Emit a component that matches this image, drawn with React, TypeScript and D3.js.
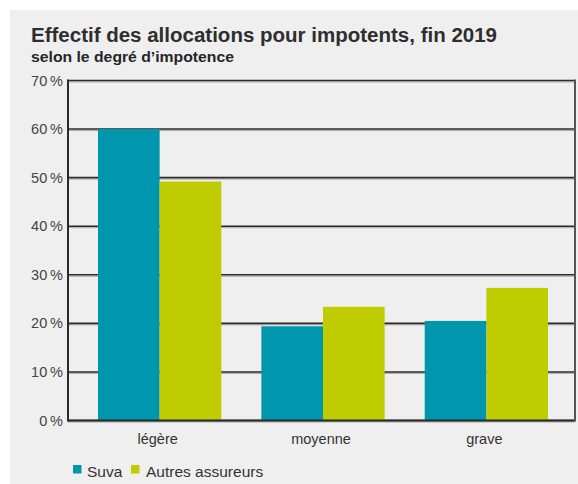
import React from "react";
import * as d3 from "d3";

const categories = ["légère", "moyenne", "grave"];
const seriesNames = ["Suva", "Autres assureurs"];
const suvaValues = [60.0, 19.4, 20.5];
const autresValues = [49.2, 23.4, 27.3];
const yTicks = [0, 10, 20, 30, 40, 50, 60, 70];
const colors = ["#0097ae", "#bfcc00"];

const W = 578;
const H = 484;
const plotLeft = 68;
const plotRight = 575;
const plotTop = 80.5;
const plotBottom = 420.5;

export default function App() {
  const y = d3.scaleLinear().domain([0, 70]).range([plotBottom, plotTop]);
  const x0 = d3
    .scaleBand<string>()
    .domain(categories)
    .range([98, 548])
    .paddingInner(40 / 163)
    .paddingOuter(0);
  const x1 = d3
    .scaleBand<string>()
    .domain(seriesNames)
    .range([0, x0.bandwidth()]);
  const values = [suvaValues, autresValues];
  const font = "'Liberation Sans', Arial, Helvetica, sans-serif";

  return (
    <div style={{ position: "absolute", left: 0, top: 0 }}>
      <svg width={W} height={H} style={{ display: "block" }} fontFamily={font}>
        <rect x={10} y={10} width={W - 10} height={H - 10} fill="#efefef" />
        <text x={31} y={41.5} fontSize={20} fontWeight={700} fill="#2e2e2e" textLength={466} lengthAdjust="spacingAndGlyphs">
          Effectif des allocations pour impotents, fin 2019
        </text>
        <text x={31} y={61.5} fontSize={15} fontWeight={700} fill="#262626" textLength={203} lengthAdjust="spacingAndGlyphs">
          selon le degré d’impotence
        </text>
        {/* gridlines */}
        {yTicks.map((t) => (
          <g key={t}>
            <line x1={plotLeft} x2={plotRight} y1={y(t) + 1.5} y2={y(t) + 1.5} stroke="#aaa" strokeWidth={1} />
            <line x1={plotLeft} x2={plotRight} y1={y(t)} y2={y(t)} stroke="#2a2a2a" strokeWidth={1.6} />
            <text x={63} y={y(t) + 5} fontSize={14.5} textAnchor="end" fill="#444">
              {`${t}\u2009%`}
            </text>
          </g>
        ))}
        {/* bars */}
        {categories.map((c, i) => (
          <g key={c}>
            {seriesNames.map((s, j) => (
              <rect
                key={s}
                x={(x0(c) as number) + (x1(s) as number)}
                y={y(values[j][i])}
                width={x1.bandwidth()}
                height={plotBottom - y(values[j][i])}
                fill={colors[j]}
              />
            ))}
            <text
              x={(x0(c) as number) + x0.bandwidth() / 2 - 2}
              y={444}
              fontSize={14.5}
              textAnchor="middle"
              fill="#333"
            >
              {c}
            </text>
          </g>
        ))}
        {/* axes lines */}
        <line x1={plotLeft} x2={plotRight} y1={plotBottom} y2={plotBottom} stroke="#2a2a2a" strokeWidth={2} />
        <line x1={plotLeft} x2={plotLeft} y1={plotTop - 1} y2={plotBottom + 1} stroke="#2a2a2a" strokeWidth={2} />
        <line x1={plotRight} x2={plotRight} y1={plotTop - 1} y2={plotBottom + 1} stroke="#555" strokeWidth={2} />
        {/* legend */}
        <rect x={73} y={465} width={8.5} height={8.5} fill={colors[0]} />
        <text x={87} y={477} fontSize={15.5} fill="#333">{seriesNames[0]}</text>
        <rect x={131} y={465} width={8.5} height={8.5} fill={colors[1]} />
        <text x={146} y={477} fontSize={15.5} fill="#333">{seriesNames[1]}</text>
      </svg>
    </div>
  );
}
